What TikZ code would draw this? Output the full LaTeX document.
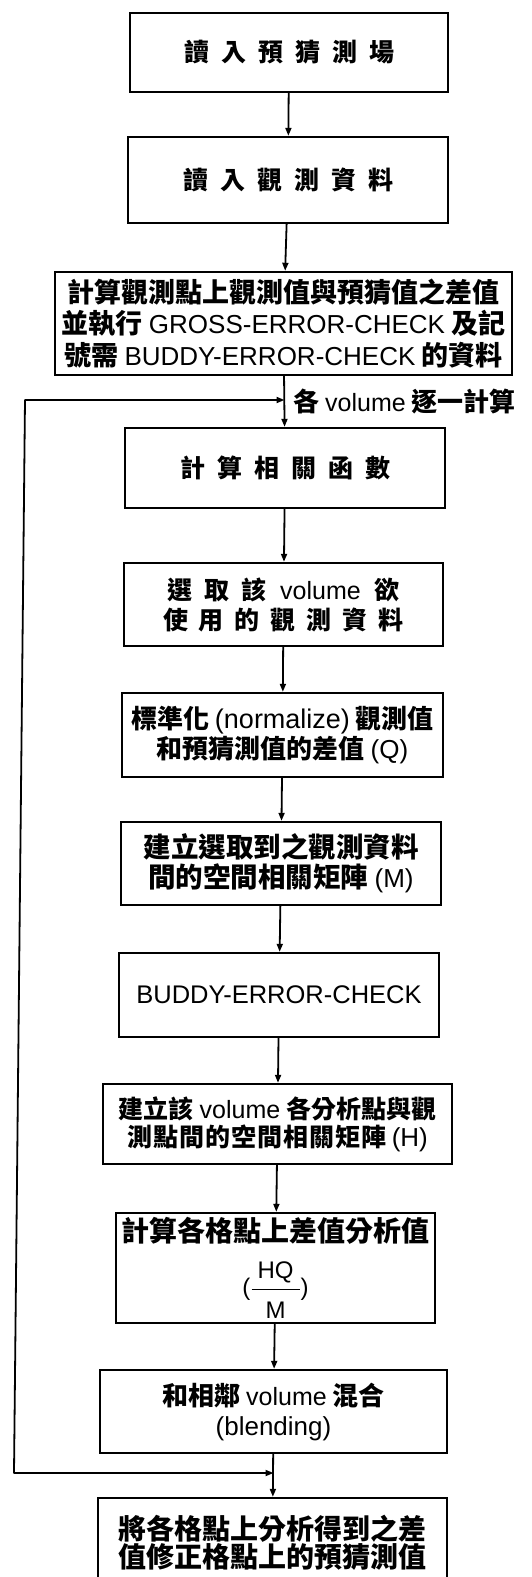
\documentclass[tikz,border=0pt]{standalone}
\usepackage{fontspec}
\setmainfont{Noto Sans CJK TC}
\newfontfamily\latf{Liberation Sans}
\usetikzlibrary{arrows.meta}
\newcommand\gp{\hspace{12pt}}
\newcommand\la[2]{{\latf\mdseries\fontsize{#1}{#1}\selectfont #2}}
\begin{document}
\begin{tikzpicture}[x=1pt,y=-1pt,
  box/.style={draw,line width=2.4pt,inner sep=0pt,align=center,
    font=\bfseries\fontsize{26}{30}\selectfont},
  conn/.style={line width=1.8pt,-{Triangle[length=8pt,width=6pt]}},
  ln/.style={line width=1.8pt,line cap=round}]
\useasboundingbox[fill=white] (0,0) rectangle (531,1577);
\clip (0,0) rectangle (531,1577);

\node[box,minimum width=318pt,minimum height=79pt] (b1) at (289,52.5)
  {\fontsize{25}{30}\selectfont 讀\gp 入\gp 預\gp 猜\gp 測\gp 場};
\node[box,minimum width=320pt,minimum height=86pt] (b2) at (288,180)
  {\fontsize{25}{30}\selectfont 讀\gp 入\gp 觀\gp 測\gp 資\gp 料};
\node[box,minimum width=457pt,minimum height=103pt,font=\bfseries\fontsize{27}{31.5}\selectfont] (b3) at (283.5,323.5)
  {計算觀測點上觀測值與預猜值之差值\\
   並執行 \la{26}{GROSS-ERROR-CHECK} 及記\\
   號需 \la{26}{BUDDY-ERROR-CHECK} 的資料};
\node[box,minimum width=320pt,minimum height=80pt] (b4) at (285,468)
  {\fontsize{25}{30}\selectfont 計\gp 算\gp 相\gp 關\gp 函\gp 數};
\node[box,minimum width=319pt,minimum height=83pt] (b5) at (283.5,604.5)
  {\fontsize{25}{30}\selectfont 選\gp 取\gp 該\hspace{14pt}\la{25}{volume}\hspace{14pt}欲\\
   \fontsize{25}{30}\selectfont 使\hspace{11pt}用\hspace{11pt}的\hspace{11pt}觀\hspace{11pt}測\hspace{11pt}資\hspace{11pt}料};
\node[box,minimum width=321pt,minimum height=84pt] (b6) at (282.5,735)
  {標準化 \la{27}{(normalize)} 觀測值\\
   和預猜測值的差值 \la{26}{(Q)}};
\node[box,minimum width=320pt,minimum height=83pt,font=\bfseries\fontsize{27.5}{30}\selectfont] (b7) at (281,863.5)
  {建立選取到之觀測資料\\
   間的空間相關矩陣 \la{26}{(M)}};
\node[box,minimum width=320pt,minimum height=84pt] (b8) at (279,995)
  {\la{25.5}{BUDDY-ERROR-CHECK}};
\node[box,minimum width=349pt,minimum height=80pt,font=\bfseries\fontsize{25}{28}\selectfont] (b9) at (277.5,1124)
  {建立該 \la{25}{volume} 各分析點與觀\\
   測\hspace{1pt}點\hspace{1pt}間\hspace{1pt}的\hspace{1pt}空\hspace{1pt}間\hspace{1pt}相\hspace{1pt}關\hspace{1pt}矩\hspace{1pt}陣 \la{26}{(H)}};
\node[box,minimum width=319pt,minimum height=110pt,font=\bfseries\fontsize{28}{30}\selectfont] (b10) at (275.5,1268)
  {計算各格點上差值分析值\\[16pt]
   \la{24}{(}$\displaystyle\frac{\hbox{\la{24}{\kern6pt HQ\kern6pt}}}{\hbox{\raisebox{-6pt}{\la{24}{M}}}}$\la{24}{)}};
\node[box,minimum width=347pt,minimum height=83pt] (b11) at (273.5,1411.5)
  {和相鄰 \la{25}{volume} 混合\\
   \la{26}{(blending)}};
\node[box,minimum width=349pt,minimum height=90pt,font=\bfseries\fontsize{28}{28}\selectfont] (b12) at (272.5,1543)
  {將各格點上分析得到之差\\
   值修正格點上的預猜測值};

\node[anchor=west,inner sep=0pt,font=\bfseries\fontsize{26}{30}\selectfont] (lab) at (293,401)
  {各 \la{25}{volume} 逐一計算};

\coordinate (jt) at (284.5,400);
\coordinate (jb) at (273.5,1473);
\coordinate (lt) at (25,400);
\coordinate (lb) at (14,1473);

\draw[conn] (b1) -- (b2);
\draw[conn] (b2) -- (b3);
\draw[conn] (b3) -- (b4);
\draw[conn] (b4) -- (b5);
\draw[conn] (b5) -- (b6);
\draw[conn] (b6) -- (b7);
\draw[conn] (b7) -- (b8);
\draw[conn] (b8) -- (b9);
\draw[conn] (b9) -- (b10);
\draw[conn] (b10) -- (b11);
\draw[conn] (b11) -- (b12);
\draw[ln] (lb) -- (lt);
\draw[conn] (lt) -- (jt);
\draw[conn] (lb) -- (jb);
\end{tikzpicture}
\end{document}
